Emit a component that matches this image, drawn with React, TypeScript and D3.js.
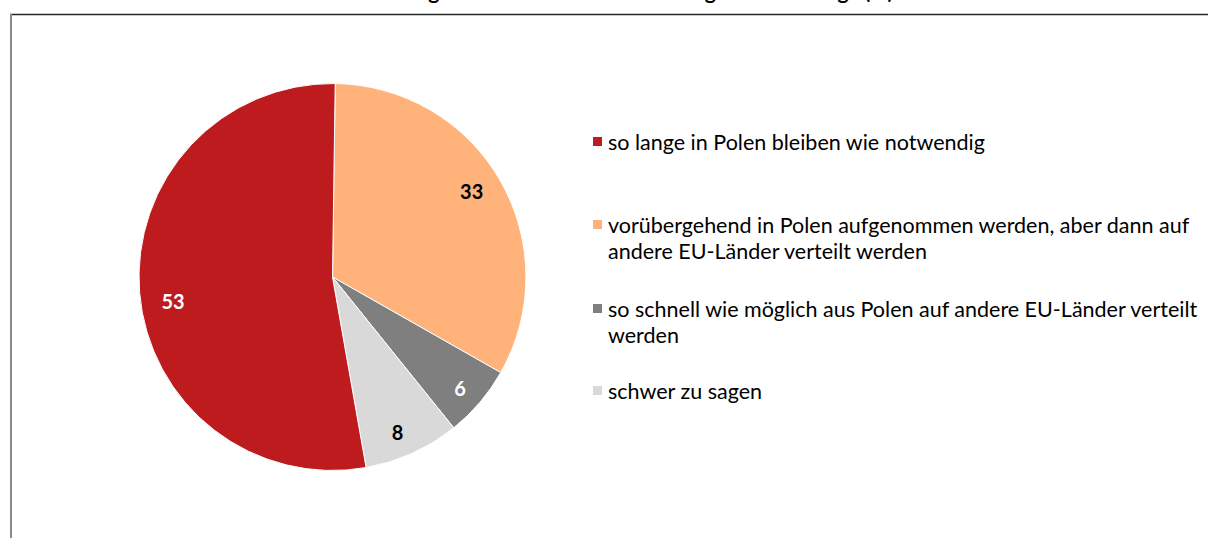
import React from "react";
import * as d3 from "d3";

const categories = [
  "vorübergehend in Polen aufgenommen werden, aber dann auf andere EU-Länder verteilt werden",
  "so schnell wie möglich aus Polen auf andere EU-Länder verteilt werden",
  "schwer zu sagen",
  "so lange in Polen bleiben wie notwendig",
];
const values = [33, 6, 8, 53];
const colors = ["#FFB37B", "#7F7F7F", "#D9D9D9", "#BE1B1E"];
const labelColors = ["#000000", "#FFFFFF", "#000000", "#FFFFFF"];

const legendOrder = [3, 0, 1, 2];
const legendLines = [
  ["so lange in Polen bleiben wie notwendig"],
  ["vorübergehend in Polen aufgenommen werden, aber dann auf", "andere EU-Länder verteilt werden"],
  ["so schnell wie möglich aus Polen auf andere EU-Länder verteilt", "werden"],
  ["schwer zu sagen"],
];
const title = "Meinung zur Aufnahme und Verteilung der Flüchtlinge (%)";

export default function App() {
  const W = 1208, H = 538;
  const cx = 332.5, cy = 277, r = 193.5;
  const offset = (0.8 * Math.PI) / 180;
  const pie = d3.pie<number>().sort(null).startAngle(offset).endAngle(offset + 2 * Math.PI);
  const arcs = pie(values);
  const arc = d3.arc<d3.PieArcDatum<number>>().innerRadius(0).outerRadius(r);
  const labelArc = d3.arc<d3.PieArcDatum<number>>().innerRadius(165).outerRadius(165);
  const labelNudge = [[-4, -3], [2, 5], [-3, 6], [5, 12]];
  const legendY = [142, 225, 309, 391];
  const lineH = 26;
  const font = "Lato, 'Open Sans', sans-serif";
  return (
    <svg width={W} height={H} style={{ position: "absolute", left: 0, top: 0 }} fontFamily={font}>
      <rect x={0} y={0} width={W} height={H} fill="#fff" />
      <text x={625} y={-1} textAnchor="middle" fontSize={21} fontWeight="bold" fill="#000">{title}</text>
      <line x1={10} x2={W} y1={14.5} y2={14.5} stroke="#262626" strokeWidth={1.5} />
      <line x1={11} x2={11} y1={14} y2={H} stroke="#8a8a8a" strokeWidth={2} />
      <g transform={`translate(${cx},${cy})`}>
        {arcs.map((a, i) => (
          <path key={i} d={arc(a) || ""} fill={colors[i]} stroke="#fff" strokeWidth={1} />
        ))}
        {arcs.map((a, i) => {
          const [x, y] = labelArc.centroid(a);
          return (
            <text key={i} x={x + labelNudge[i][0]} y={y + labelNudge[i][1]} dy="0.35em" textAnchor="middle" fontSize={20} fontWeight="bold" fill={labelColors[i]}>
              {values[i]}
            </text>
          );
        })}
      </g>
      {legendOrder.map((ci, k) => (
        <g key={ci}>
          <rect x={593} y={legendY[k] - 5} width={9} height={9} fill={colors[ci]} />
          {legendLines[k].map((ln, j) => (
            <text key={j} x={608} y={legendY[k] + j * lineH} dy="0.35em" fontSize={21.5} fill="#000">{ln}</text>
          ))}
        </g>
      ))}
    </svg>
  );
}
